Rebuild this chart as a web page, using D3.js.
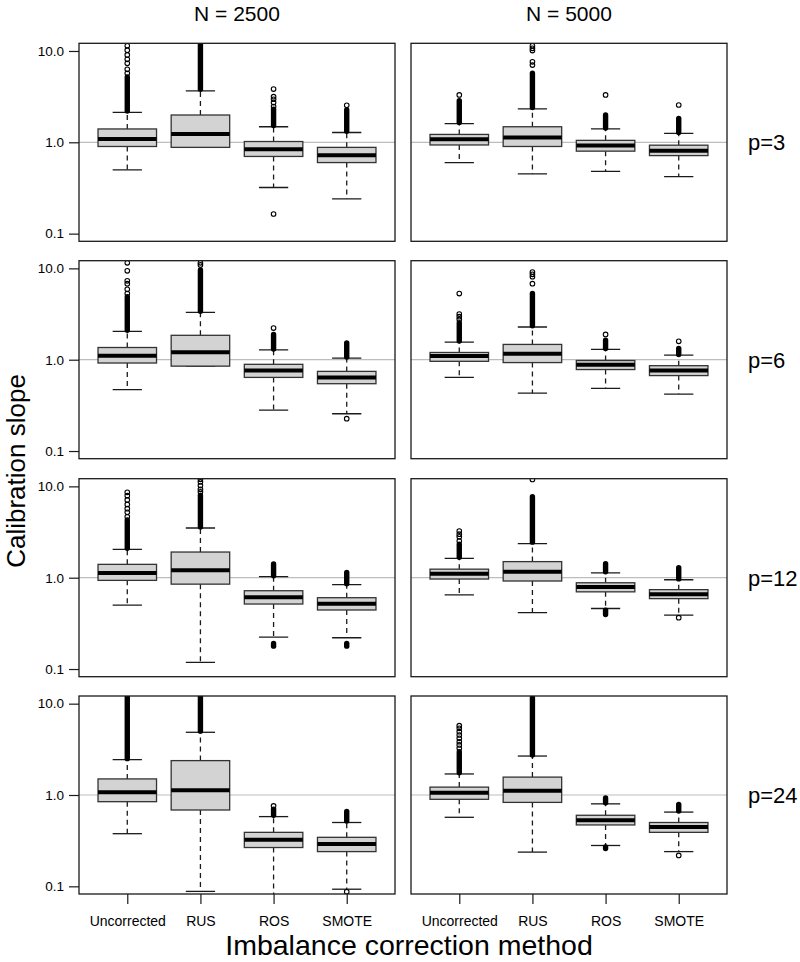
<!DOCTYPE html>
<html>
<head>
<meta charset="utf-8">
<script src="https://cdn.jsdelivr.net/npm/d3@7"></script>
<style>
  html, body { margin: 0; padding: 0; background: #fff; }
  svg { display: block; font-family: "Liberation Sans", Arial, Helvetica, sans-serif; }
</style>
</head>
<body>
<svg id="chart" width="800" height="962"></svg>
<script>
// ---------------- data ----------------
const methods = ["Uncorrected", "RUS", "ROS", "SMOTE"];
const sampleSizes = ["N = 2500", "N = 5000"];
const predictors = ["p=3", "p=6", "p=12", "p=24"];
const yTickValues = [0.1, 1, 10];
const yTickLabels = ["0.1", "1.0", "10.0"];
const referenceValue = 1;

// box stats per method: [lower whisker, Q1, median, Q3, upper whisker]
const stats_N2500_p3 = [[0.50, 0.90, 1.09, 1.40, 2.13], [0.88, 0.88, 1.23, 1.99, 3.65], [0.32, 0.70, 0.84, 1.02, 1.48], [0.24, 0.60, 0.72, 0.88, 1.28]];
const stats_N5000_p3 = [[0.60, 0.935, 1.08, 1.22, 1.60], [0.45, 0.90, 1.13, 1.48, 2.32], [0.48, 0.80, 0.92, 1.05, 1.40], [0.42, 0.715, 0.81, 0.93, 1.25]];
const stats_N2500_p6 = [[0.47, 0.92, 1.106, 1.36, 2.04], [0.85, 0.85, 1.21, 1.85, 3.30], [0.28, 0.64, 0.76, 0.89, 1.28], [0.256, 0.546, 0.64, 0.745, 1.04]];
const stats_N5000_p6 = [[0.64, 0.96, 1.10, 1.20, 1.56], [0.43, 0.93, 1.16, 1.47, 2.28], [0.485, 0.78, 0.88, 0.98, 1.30], [0.42, 0.67, 0.764, 0.86, 1.12]];
const stats_N2500_p12 = [[0.50, 0.935, 1.125, 1.40, 2.04], [0.118, 0.85, 1.21, 1.91, 3.50], [0.224, 0.515, 0.61, 0.72, 1.025], [0.22, 0.443, 0.52, 0.604, 0.84]];
const stats_N5000_p12 = [[0.65, 0.967, 1.105, 1.24, 1.63], [0.414, 0.92, 1.16, 1.50, 2.36], [0.46, 0.70, 0.79, 0.88, 1.13], [0.39, 0.59, 0.66, 0.74, 0.95]];
const stats_N2500_p24 = [[0.377, 0.845, 1.07, 1.50, 2.44], [0.088, 0.685, 1.13, 2.38, 4.86], [0.07, 0.266, 0.324, 0.39, 0.58], [0.093, 0.24, 0.29, 0.344, 0.50]];
const stats_N5000_p24 = [[0.57, 0.897, 1.06, 1.22, 1.70], [0.237, 0.83, 1.115, 1.57, 2.67], [0.28, 0.47, 0.53, 0.60, 0.80], [0.24, 0.39, 0.446, 0.50, 0.65]];

// dense outlier runs (continuous stacks of circles) per method: [from, to]
const runs_N2500_p3 = [[[2.2, 5.2]], [[3.8, 13]], [[1.53, 2.3]], [[1.32, 2.26]]];
const runs_N5000_p3 = [[[1.65, 2.86]], [[2.4, 5.7]], [[1.43, 1.99]], [[1.28, 1.83]]];
const runs_N2500_p6 = [[[2.1, 4.9]], [[3.4, 9.6]], [[1.31, 1.89]], [[1.07, 1.53]]];
const runs_N5000_p6 = [[[1.6, 2.54]], [[2.35, 5.3]], [[1.33, 1.64]], [[1.14, 1.33]]];
const runs_N2500_p12 = [[[2.1, 4.28]], [[3.6, 8.0]], [[1.05, 1.41], [0.178, 0.19]], [[0.86, 1.14], [0.178, 0.19]]];
const runs_N5000_p12 = [[[1.67, 2.32]], [[2.45, 7.7]], [[1.16, 1.42], [0.395, 0.44]], [[0.97, 1.29]]];
const runs_N2500_p24 = [[[2.5, 13]], [[5.0, 13]], [[0.6, 0.7]], [[0.52, 0.66]]];
const runs_N5000_p24 = [[[1.75, 2.98]], [[2.75, 11.6]], [[0.82, 0.93], [0.26, 0.27]], [[0.67, 0.79]]];

// isolated outliers per method
const points_N2500_p3 = [[5.7, 6.3, 7.32, 8.1, 9.05, 10.2, 11.4], [], [0.164, 2.46, 2.72, 2.96, 3.16, 3.83], [2.54]];
const points_N5000_p3 = [[3.30], [7.0, 7.6, 10.1, 10.7, 11.4], [3.30], [2.56]];
const points_N2500_p6 = [[5.3, 5.9, 6.8, 7.3, 9.4, 11.5], [10.9, 11.5], [2.22], [0.226]];
const points_N5000_p6 = [[2.76, 2.96, 3.16, 5.3], [6.8, 8.1, 8.6, 9.1], [1.89], [1.59]];
const points_N2500_p12 = [[4.65, 5.2, 5.7, 6.35, 7.1, 7.9, 8.6], [8.7, 9.3, 10.2, 11.2, 12], [], []];
const points_N5000_p12 = [[2.52, 2.8, 3.0, 3.24], [11.9], [], [0.365]];
const points_N2500_p24 = [[], [], [0.76], [0.087]];
const points_N5000_p24 = [[3.24, 3.53, 3.83, 4.17, 4.54, 4.94, 5.37, 5.74], [], [], [0.218]];

const panelStats = [[stats_N2500_p3, stats_N5000_p3], [stats_N2500_p6, stats_N5000_p6], [stats_N2500_p12, stats_N5000_p12], [stats_N2500_p24, stats_N5000_p24]];
const panelRuns = [[runs_N2500_p3, runs_N5000_p3], [runs_N2500_p6, runs_N5000_p6], [runs_N2500_p12, runs_N5000_p12], [runs_N2500_p24, runs_N5000_p24]];
const panelPoints = [[points_N2500_p3, points_N5000_p3], [points_N2500_p6, points_N5000_p6], [points_N2500_p12, points_N5000_p12], [points_N2500_p24, points_N5000_p24]];

// ---------------- layout ----------------
const colLeft = [79, 411];
const panelW = 316;
const rowTop = [43.3, 260.7, 478.7, 696];
const panelH = 198;
const ext = 0.08 * 1.05;
const yDomain = [Math.pow(10, -1 - ext), Math.pow(10, 1 + ext)];
const xDomain = [0.34, 4.66];

const svg = d3.select("#chart");
const defs = svg.append("defs");

const boxFill = "#d3d3d3";
const ink = "#1a1a1a";

predictors.forEach((pLabel, r) => {
  sampleSizes.forEach((nLabel, c) => {
    const left = colLeft[c], top = rowTop[r];
    const x = d3.scaleLinear().domain(xDomain).range([left, left + panelW]);
    const y = d3.scaleLog().domain(yDomain).range([top + panelH, top]);
    const clipId = `clip-${r}-${c}`;
    defs.append("clipPath").attr("id", clipId)
      .append("rect").attr("x", left).attr("y", top).attr("width", panelW).attr("height", panelH);

    const g = svg.append("g");
    const inner = g.append("g").attr("clip-path", `url(#${clipId})`);

    // reference line at 1
    inner.append("line")
      .attr("x1", left).attr("x2", left + panelW)
      .attr("y1", y(referenceValue)).attr("y2", y(referenceValue))
      .attr("stroke", "#bdbdbd").attr("stroke-width", 1.2);

    const stats = panelStats[r][c];
    const runs = panelRuns[r][c];
    const pts = panelPoints[r][c];

    stats.forEach((s, i) => {
      const pos = i + 1;
      const [lo, q1, med, q3, hi] = s;
      const cx = x(pos);
      const bx0 = x(pos - 0.4), bx1 = x(pos + 0.4);
      const cx0 = x(pos - 0.2), cx1 = x(pos + 0.2);
      const bg = inner.append("g");
      // whiskers (dashed)
      bg.append("line").attr("x1", cx).attr("x2", cx).attr("y1", y(q3)).attr("y2", y(hi))
        .attr("stroke", ink).attr("stroke-width", 1.3).attr("stroke-dasharray", "5,4");
      bg.append("line").attr("x1", cx).attr("x2", cx).attr("y1", y(q1)).attr("y2", y(lo))
        .attr("stroke", ink).attr("stroke-width", 1.3).attr("stroke-dasharray", "5,4");
      // caps
      bg.append("line").attr("x1", cx0).attr("x2", cx1).attr("y1", y(hi)).attr("y2", y(hi))
        .attr("stroke", ink).attr("stroke-width", 1.3);
      bg.append("line").attr("x1", cx0).attr("x2", cx1).attr("y1", y(lo)).attr("y2", y(lo))
        .attr("stroke", ink).attr("stroke-width", 1.3);
      // box
      bg.append("rect").attr("x", bx0).attr("y", y(q3))
        .attr("width", bx1 - bx0).attr("height", y(q1) - y(q3))
        .attr("fill", boxFill).attr("stroke", "#333").attr("stroke-width", 1.3);
      // median
      bg.append("line").attr("x1", bx0).attr("x2", bx1).attr("y1", y(med)).attr("y2", y(med))
        .attr("stroke", "#000").attr("stroke-width", 4);
      // dense outlier runs
      runs[i].forEach(([a, b]) => {
        bg.append("line").attr("x1", cx).attr("x2", cx).attr("y1", y(a)).attr("y2", y(b))
          .attr("stroke", "#000").attr("stroke-width", 5.4).attr("stroke-linecap", "round");
      });
      // isolated outliers
      bg.selectAll("circle.o").data(pts[i]).enter().append("circle")
        .attr("class", "o").attr("cx", cx).attr("cy", d => y(d)).attr("r", 2.3)
        .attr("fill", "none").attr("stroke", "#000").attr("stroke-width", 1.1);
    });

    // frame
    g.append("rect").attr("x", left).attr("y", top).attr("width", panelW).attr("height", panelH)
      .attr("fill", "none").attr("stroke", ink).attr("stroke-width", 1.3);

    // y axis on left column
    if (c === 0) {
      const ax = g.append("g").attr("transform", `translate(${left},0)`)
        .call(d3.axisLeft(y).tickValues(yTickValues)
          .tickFormat((d, k) => yTickLabels[k]).tickSize(10).tickPadding(5));
      ax.select(".domain").remove();
      ax.selectAll(".tick line").attr("stroke", ink).attr("stroke-width", 1.2);
      ax.selectAll(".tick text").attr("font-size", 13.5).attr("fill", "#000")
        .attr("font-family", "'Liberation Sans', Arial, sans-serif");
    }
    // x axis on bottom row
    if (r === predictors.length - 1) {
      const ax = g.append("g").attr("transform", `translate(0,${top + panelH})`)
        .call(d3.axisBottom(x).tickValues([1, 2, 3, 4])
          .tickFormat(d => methods[d - 1]).tickSize(10).tickPadding(12));
      ax.select(".domain").remove();
      ax.selectAll(".tick line").attr("stroke", ink).attr("stroke-width", 1.2);
      ax.selectAll(".tick text").attr("font-size", 14).attr("fill", "#000")
        .attr("font-family", "'Liberation Sans', Arial, sans-serif");
    }
    // column titles
    if (r === 0) {
      svg.append("text").attr("x", left + panelW / 2).attr("y", 21)
        .attr("text-anchor", "middle").attr("font-size", 21).text(nLabel);
    }
    // row labels
    if (c === 1) {
      svg.append("text").attr("x", 748).attr("y", y(referenceValue)).attr("dy", "0.36em")
        .attr("font-size", 22).text(pLabel);
    }
  });
});

// axis titles
svg.append("text").attr("x", 409).attr("y", 955).attr("text-anchor", "middle")
  .attr("font-size", 28.5).text("Imbalance correction method");
svg.append("text").attr("transform", "translate(25,471) rotate(-90)")
  .attr("text-anchor", "middle").attr("font-size", 26).text("Calibration slope");
</script>
</body>
</html>
